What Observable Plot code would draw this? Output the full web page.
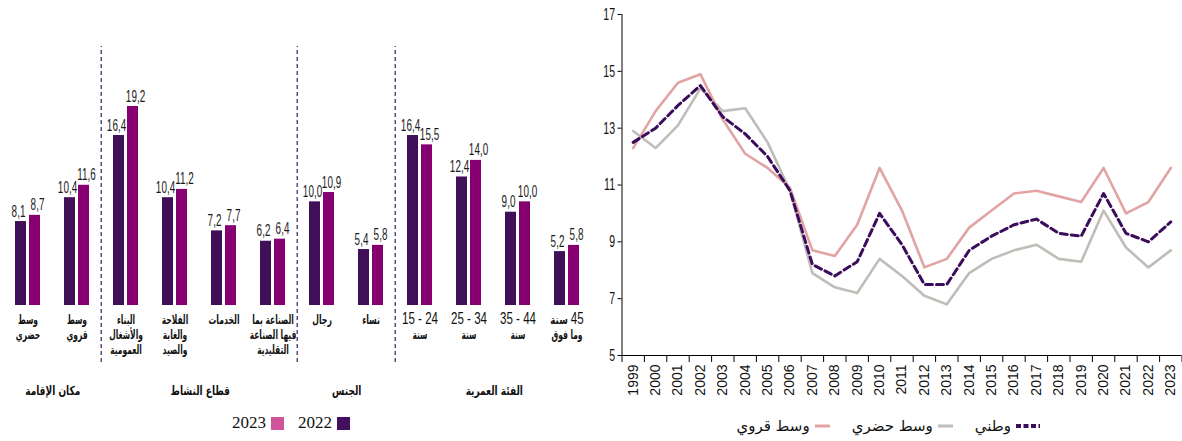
<!DOCTYPE html>
<html>
<head>
<meta charset="utf-8">
<script src="https://cdn.jsdelivr.net/npm/d3@7"></script>
<script src="https://cdn.jsdelivr.net/npm/@observablehq/plot@0.6"></script>
<style>
  body { margin: 0; background: #fff; }
  #wrap { position: relative; width: 1182px; height: 441px; overflow: hidden; background: #fff; }
  #left { position: absolute; left: 0; top: 0; }
  #right { position: absolute; left: 600px; top: 0; }
  #left svg, #right svg { overflow: visible; }
  #left svg text { direction: rtl; }
  .legend { position: absolute; display: flex; align-items: center; direction: rtl; white-space: nowrap; }
  .item { display: flex; align-items: center; }
  #legL { right: 832px; top: 413px; font-family: "Liberation Serif", "DejaVu Serif", serif; font-size: 17px; color: #111; }
  #legL .item + .item { margin-right: 14px; }
  #legL .sw { width: 13px; height: 13px; margin-left: 5px; }
  #legR { right: 142px; top: 417px; font-family: "DejaVu Sans", sans-serif; font-size: 15px; color: #111; }
  #legR .item + .item { margin-right: 22px; }
  #legR svg { margin-left: 5px; }
</style>
</head>
<body>
<div id="wrap">
  <div id="left"></div>
  <div id="right"></div>
  <div id="legL" class="legend"></div>
  <div id="legR" class="legend"></div>
</div>
<script>
// ---------- Left panel data ----------
const categories = [
  "وسط\nحضري",
  "وسط\nقروي",
  "البناء\nوالأشغال\nالعمومية",
  "الفلاحة\nوالغابة\nوالصيد",
  "الخدمات",
  "الصناعة بما\nفيها الصناعة\nالتقليدية",
  "رجال",
  "نساء",
  "15 - 24\nسنة",
  "25 - 34\nسنة",
  "35 - 44\nسنة",
  "45 سنة\nوما فوق"
];
const values2022 = [8.1, 10.4, 16.4, 10.4, 7.2, 6.2, 10.0, 5.4, 16.4, 12.4, 9.0, 5.2];
const values2023 = [8.7, 11.6, 19.2, 11.2, 7.7, 6.4, 10.9, 5.8, 15.5, 14.0, 10.0, 5.8];
const barYears = ["2022", "2023"];
const sectionNames = ["مكان الإقامة", "قطاع النشاط", "الجنس", "الفئة العمرية"];
const sectionSizes = [2, 4, 2, 4];

// ---------- Right panel data ----------
const years = [1999,2000,2001,2002,2003,2004,2005,2006,2007,2008,2009,2010,2011,2012,2013,2014,2015,2016,2017,2018,2019,2020,2021,2022,2023];
const rural    = [12.3,13.6,14.6,14.9,13.3,12.1,11.6,10.9,8.7,8.5,9.6,11.6,10.1,8.1,8.4,9.5,10.1,10.7,10.8,10.6,10.4,11.6,10.0,10.4,11.6];
const urban    = [12.9,12.3,13.1,14.4,13.6,13.7,12.5,10.8,7.9,7.4,7.2,8.4,7.8,7.1,6.8,7.9,8.4,8.7,8.9,8.4,8.3,10.1,8.8,8.1,8.7];
const national = [12.5,13.0,13.8,14.5,13.4,12.8,12.0,10.8,8.2,7.8,8.3,10.0,8.9,7.5,7.5,8.7,9.2,9.6,9.8,9.3,9.2,10.7,9.3,9.0,9.7];
const yTicks = [5, 7, 9, 11, 13, 15, 17];
const seriesNames = ["وطني", "وسط حضري", "وسط قروي"];

// ---------- Styles ----------
const C2022 = "#3f0f58", C2023 = "#870072";
const CL2022 = "#42105e", CL2023 = "#cf5499";
const CNat = "#3b0c5c", CUrb = "#c0bdb9", CRur = "#e2a4a3";
const NUM = '"Liberation Sans", Arial, sans-serif';
const AR = '"DejaVu Sans", sans-serif';

function squeeze(el, f) {
  const L = el.getComputedTextLength();
  if (L > 0) {
    el.setAttribute("textLength", (L * f).toFixed(2));
    el.setAttribute("lengthAdjust", "spacingAndGlyphs");
  }
}
const hasArabic = s => /[\u0600-\u06FF]/.test(s);

// ---------- Left chart ----------
const barRows = [];
categories.forEach((c, i) => {
  barRows.push({cat: c, year: "2022", value: values2022[i]});
  barRows.push({cat: c, year: "2023", value: values2023[i]});
});
const sections = [];
let k = 0;
sectionNames.forEach((s, i) => { sections.push({name: s, first: categories[k], n: sectionSizes[i]}); k += sectionSizes[i]; });

const LW = 600, LH = 405, mL = 0, mR = 6;
const fxPadIn = 0.5, fxPadOut = 0.25, xPadIn = 0.235;
const fxStep = (LW - mL - mR) / (categories.length - fxPadIn + 2 * fxPadOut);
const fxBand = fxStep * (1 - fxPadIn);
const xStep = fxBand / (2 - xPadIn);
const xBand = xStep * (1 - xPadIn);
const sepDx = -(xBand / 2 + (fxStep - fxBand) / 2);
const fmt = v => v.toFixed(1).replace(".", ",");

const valueLabel = (yr, dx) => Plot.text(barRows.filter(d => d.year === yr), {fx: "cat", x: "year", y: "value",
  text: d => fmt(d.value), lineAnchor: "bottom", dx, dy: -5, fontSize: 16.5, fontFamily: NUM, fill: "#1a1a1a"});

const left = Plot.plot({
  width: LW, height: LH,
  marginLeft: mL, marginRight: mR, marginTop: 106, marginBottom: 100,
  style: {fontFamily: AR, color: "#111", background: "transparent"},
  fx: {domain: categories, paddingInner: fxPadIn, paddingOuter: fxPadOut, axis: null, label: null},
  x: {domain: barYears, paddingInner: xPadIn, paddingOuter: 0, axis: null, label: null},
  y: {domain: [0, 19.2], axis: null, label: null},
  color: {domain: barYears, range: [C2022, C2023]},
  marks: [
    Plot.barY(barRows, {fx: "cat", x: "year", y: "value", fill: "year"}),
    valueLabel("2022", -2.5),
    valueLabel("2023", 2.5),
    Plot.text(categories, {fx: d => d, text: d => d, frameAnchor: "bottom", lineAnchor: "top",
      dy: 8, fontSize: 12.5, fontWeight: "bold", lineHeight: 1.2, fill: "#111"}),
    ...sections.map(s => Plot.text([s], {fx: "first", text: "name", frameAnchor: "bottom", lineAnchor: "middle",
      dx: (s.n - 1) * fxStep / 2, dy: 85, fontSize: 12.5, fontWeight: "bold", fill: "#111"})),
    Plot.ruleX([categories[2], categories[6], categories[8]], {fx: d => d, x: () => "2022",
      y1: -5.5, y2: 25, dx: sepDx, stroke: "#5a4b82", strokeWidth: 1.5, strokeDasharray: "4,3"})
  ]
});
document.getElementById("left").appendChild(left);

// bigger LTR numbers inside category labels
d3.select(left).selectAll("tspan").each(function() {
  const t = this.textContent;
  const m = t.match(/\d+(\s*-\s*\d+)?/);
  if (!m) return;
  const before = t.slice(0, m.index), after = t.slice(m.index + m[0].length);
  this.textContent = "";
  if (before) this.appendChild(document.createTextNode(before));
  const ts = document.createElementNS("http://www.w3.org/2000/svg", "tspan");
  ts.setAttribute("font-size", 16.5);
  ts.setAttribute("font-weight", "normal");
  ts.setAttribute("font-family", NUM.replace(/"/g, "'"));
  ts.textContent = "\u2066" + m[0] + "\u2069";
  this.appendChild(ts);
  if (after) this.appendChild(document.createTextNode(after));
});
// condense texts (the original uses narrow faces)
d3.select(left).selectAll("text").each(function() {
  const tsp = Array.from(this.children).filter(c => c.tagName === "tspan");
  const txt = this.textContent;
  if (tsp.length) {
    tsp.forEach(t => squeeze(t, /\d/.test(t.textContent) ? 0.7 : 0.6));
  } else if (hasArabic(txt)) {
    squeeze(this, sectionNames.includes(txt) ? 0.72 : 0.62);
  } else if (/^\d+,\d$/.test(txt)) {
    squeeze(this, 0.6);
  }
});

// ---------- Right chart ----------
const lineRows = (arr, name) => years.map((y, i) => ({year: y, value: arr[i], series: name}));
const bounds = d3.range(years[0] - 0.5, years[years.length - 1] + 1, 1);
const right = Plot.plot({
  width: 582, height: LH,
  marginLeft: 21.5, marginRight: 0.5, marginTop: 14, marginBottom: 50,
  style: {fontFamily: NUM, color: "#111", background: "transparent"},
  x: {type: "linear", domain: [years[0] - 0.5, years[years.length - 1] + 0.5], label: null},
  y: {domain: [5, 17], label: null},
  marks: [
    Plot.axisY(yTicks, {tickSize: 4, tickPadding: 3, fontSize: 17, fontFamily: NUM, label: null, stroke: "#000"}),
    Plot.ruleX([bounds[0]], {y1: 5, y2: 17, stroke: "#000", strokeWidth: 1}),
    Plot.ruleY([5], {stroke: "#000", strokeWidth: 1}),
    Plot.axisX(bounds, {tickSize: 7, tickFormat: () => "", label: null, stroke: "#000"}),
    Plot.axisX(years, {tickSize: 0, tickPadding: 9, tickRotate: -90, tickFormat: d => String(d),
      fontSize: 14, fontFamily: NUM, label: null}),
    Plot.lineY(lineRows(urban, seriesNames[1]), {x: "year", y: "value", stroke: CUrb, strokeWidth: 2.6}),
    Plot.lineY(lineRows(rural, seriesNames[2]), {x: "year", y: "value", stroke: CRur, strokeWidth: 2.6}),
    Plot.lineY(lineRows(national, seriesNames[0]), {x: "year", y: "value", stroke: CNat, strokeWidth: 3,
      strokeDasharray: "7,4"})
  ]
});
document.getElementById("right").appendChild(right);
d3.select(right).selectAll("text").each(function() {
  const t = this.textContent;
  if (/^\d{1,2}$/.test(t)) squeeze(this, 0.62);
});

// ---------- Legends ----------
const legL = d3.select("#legL");
[["2022", CL2022], ["2023", CL2023]].forEach(([lab, col]) => {
  const it = legL.append("div").attr("class", "item");
  it.append("div").attr("class", "sw").style("background", col);
  it.append("span").text(lab);
});
const legR = d3.select("#legR");
[[seriesNames[0], CNat, "5,2.5", 4, 24], [seriesNames[1], CUrb, null, 3, 15], [seriesNames[2], CRur, null, 3, 15]]
  .forEach(([lab, col, dash, sw, w]) => {
    const it = legR.append("div").attr("class", "item");
    const s = it.append("svg").attr("width", w).attr("height", 8);
    s.append("line").attr("x1", 0).attr("x2", w).attr("y1", 4).attr("y2", 4)
      .attr("stroke", col).attr("stroke-width", sw).attr("stroke-dasharray", dash);
    it.append("span").text(lab);
  });
</script>
</body>
</html>
